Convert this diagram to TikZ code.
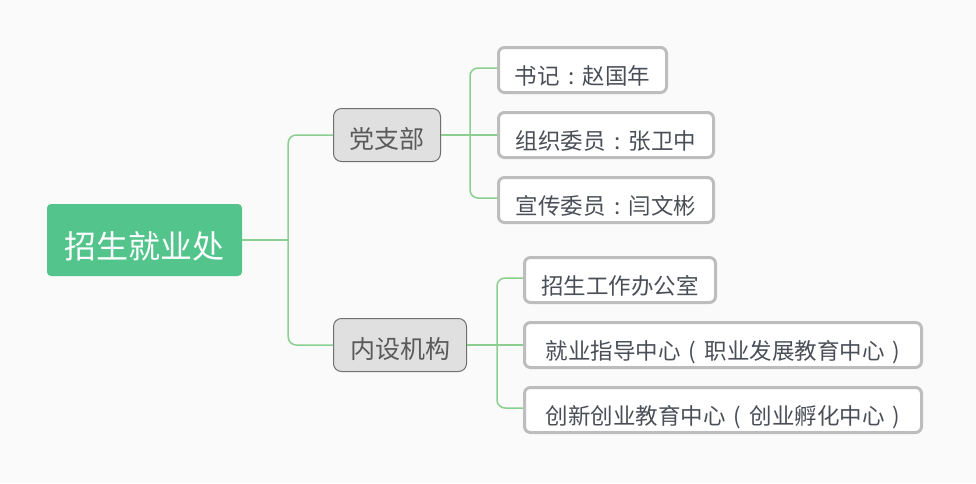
\documentclass[tikz,border=0pt]{standalone}
\usepackage{fontspec}
\setmainfont{Noto Sans CJK SC}
\usetikzlibrary{positioning, calc}
\definecolor{sfondo}{HTML}{FAFAFA}
\definecolor{verde}{HTML}{52C48C}
\definecolor{verdelinea}{HTML}{8ACF8F}
\definecolor{grigiochiaro}{HTML}{E0E0E0}
\definecolor{grigioscuro}{HTML}{707070}
\definecolor{bordo}{HTML}{BDBDBD}
\definecolor{testouno}{HTML}{5A5A5A}
\definecolor{testodue}{HTML}{4A4F57}
% punteggiatura centrata a larghezza piena
\newcommand{\duepunti}{\hspace{0.38em}:\hspace{0.38em}}
\newcommand{\aperta}{\hspace{0.36em}(\hspace{0.36em}}
\newcommand{\chiusa}{\hspace{0.36em})\hspace{0.36em}}
\tikzset{
  radice/.style={fill=verde, rounded corners=4pt, text=white, inner sep=0pt,
    font=\fontsize{32}{32}\selectfont, minimum width=195pt, text height=54pt, text depth=18pt},
  ramo/.style={fill=grigiochiaro, draw=grigioscuro, line width=1pt, rounded corners=8pt,
    text=testouno, inner sep=0pt, anchor=west,
    font=\fontsize{25}{25}\selectfont, text height=40pt, text depth=13pt},
  foglia/.style={fill=white, draw=bordo, line width=3pt, rounded corners=6pt,
    text=testodue, inner sep=0pt, anchor=north west,
    font=\fontsize{22.5}{22.5}\selectfont, text height=37pt, text depth=8pt},
  collega/.style={draw=verdelinea, line width=1.5pt, rounded corners=8pt}
}
\begin{document}
\begin{tikzpicture}[x=1pt, y=-1pt]
    %sfondo
    \fill[sfondo] (0,0) rectangle (976,483);
    \useasboundingbox (0,0) rectangle (976,483);
    %nodo centrale
    \node[radice] (radice) at (144.5,240) {招生就业处};
    %primo livello
    \node[ramo, minimum width=107pt] (dangzhi) at (333,135) {党支部};
    \node[ramo, minimum width=133pt] (neishe) at (333,345) {内设机构};
    %secondo livello (党支部)
    \node[foglia, minimum width=168pt] (shuji) at (497,46) {书记\duepunti 赵国年};
    \node[foglia, minimum width=215pt] (zuzhi) at (497,111) {组织委员\duepunti 张卫中};
    \node[foglia, minimum width=215pt] (xuanchuan) at (497,176) {宣传委员\duepunti 闫文彬};
    %secondo livello (内设机构)
    \node[foglia, minimum width=191pt] (zhaosheng) at (523,256) {招生工作办公室};
    \node[foglia, minimum width=397pt] (jiuye) at (523,321) {就业指导中心\aperta 职业发展教育中心\chiusa};
    \node[foglia, minimum width=397pt] (chuangxin) at (523,386) {创新创业教育中心\aperta 创业孵化中心\chiusa};
    %punti di diramazione
    \coordinate (g0) at ($(radice.east)+(46,0)$);
    \coordinate (g1) at ($(dangzhi.east)+(29,0)$);
    \coordinate (g2) at ($(neishe.east)+(30,0)$);
    %collegamenti
    \draw[collega] (radice.east) -- (g0);
    \draw[collega] (g0) |- (dangzhi.west);
    \draw[collega] (g0) |- (neishe.west);
    \draw[collega] (dangzhi.east) -- (dangzhi.east -| zuzhi.west);
    \draw[collega] (g1) |- ([yshift=-22pt]shuji.north west);
    \draw[collega] (g1) |- ([yshift=-22pt]xuanchuan.north west);
    \draw[collega] (neishe.east) -- (neishe.east -| jiuye.west);
    \draw[collega] (g2) |- ([yshift=-22pt]zhaosheng.north west);
    \draw[collega] (g2) |- ([yshift=-22pt]chuangxin.north west);
\end{tikzpicture}
\end{document}
